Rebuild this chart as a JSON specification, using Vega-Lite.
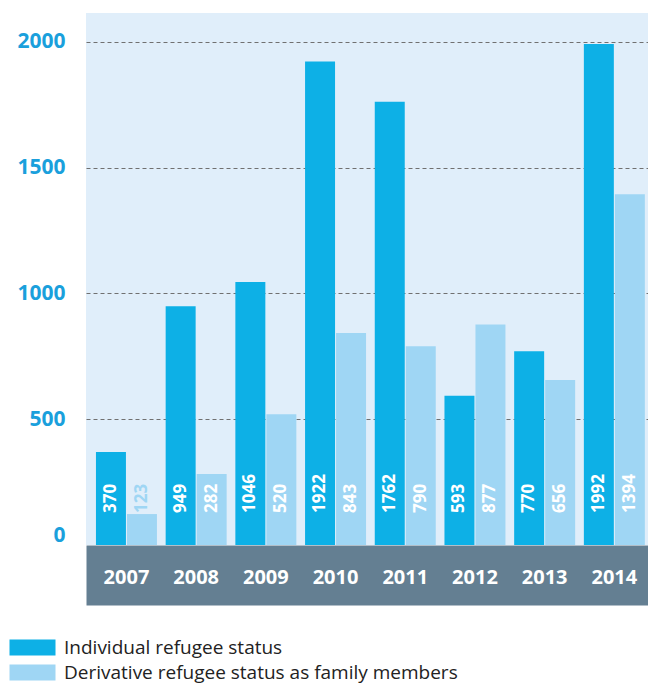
{
  "$schema": "https://vega.github.io/schema/vega-lite/v6.json",
  "width": 562,
  "height": 532,
  "autosize": {"type": "none"},
  "padding": {"left": 86, "top": 13, "right": 0, "bottom": 139},
  "background": "white",
  "config": {"view": {"fill": "#e0eefa", "stroke": null}, "font": "Open Sans"},
  "data": {"values": [
    {"year": "2007", "series": "Individual refugee status", "value": 370},
    {"year": "2007", "series": "Derivative refugee status as family members", "value": 123},
    {"year": "2008", "series": "Individual refugee status", "value": 949},
    {"year": "2008", "series": "Derivative refugee status as family members", "value": 282},
    {"year": "2009", "series": "Individual refugee status", "value": 1046},
    {"year": "2009", "series": "Derivative refugee status as family members", "value": 520},
    {"year": "2010", "series": "Individual refugee status", "value": 1922},
    {"year": "2010", "series": "Derivative refugee status as family members", "value": 843},
    {"year": "2011", "series": "Individual refugee status", "value": 1762},
    {"year": "2011", "series": "Derivative refugee status as family members", "value": 790},
    {"year": "2012", "series": "Individual refugee status", "value": 593},
    {"year": "2012", "series": "Derivative refugee status as family members", "value": 877},
    {"year": "2013", "series": "Individual refugee status", "value": 770},
    {"year": "2013", "series": "Derivative refugee status as family members", "value": 656},
    {"year": "2014", "series": "Individual refugee status", "value": 1992},
    {"year": "2014", "series": "Derivative refugee status as family members", "value": 1394}
  ]},
  "resolve": {"axis": {"x": "independent"}},
  "layer": [
    {
      "mark": {"type": "bar"},
      "encoding": {
        "x": {
          "field": "year", "type": "nominal",
          "scale": {"paddingInner": 0.125, "paddingOuter": 0.094, "align": 0.76},
          "axis": {
            "title": null, "orient": "bottom", "offset": 30, "zindex": 0,
            "domain": true, "domainColor": "#647f92", "domainWidth": 60,
            "ticks": false, "labels": false, "grid": false
          }
        },
        "xOffset": {
          "field": "series", "type": "nominal",
          "sort": ["Individual refugee status", "Derivative refugee status as family members"],
          "scale": {"paddingInner": 0.033, "paddingOuter": 0}
        },
        "y": {
          "field": "value", "type": "quantitative",
          "scale": {"domain": [0, 2115], "nice": false},
          "axis": {
            "title": null, "domain": false, "ticks": false, "format": "d",
            "values": [0, 500, 1000, 1500, 2000],
            "labelPadding": 21, "labelColor": "#1aa0dc",
            "labelFontSize": 21, "labelFontWeight": "bold", "labelFlush": true,
            "grid": true, "gridDash": [4, 3], "gridColor": "#707070", "gridWidth": 1,
            "gridOpacity": {"condition": {"test": "datum.value === 0", "value": 0}, "value": 1}
          }
        },
        "color": {
          "field": "series", "type": "nominal",
          "scale": {
            "domain": ["Individual refugee status", "Derivative refugee status as family members"],
            "range": ["#0db0e6", "#9fd6f4"]
          },
          "legend": {
            "title": null, "orient": "none", "legendX": -63, "legendY": 625,
            "direction": "vertical",
            "symbolType": "M-2.875,-1H2.875V1H-2.875Z", "symbolSize": 256,
            "symbolStrokeWidth": 0, "symbolOpacity": 1,
            "labelFontSize": 19, "labelColor": "#222222", "labelOffset": 22,
            "labelLimit": 600, "rowPadding": 5
          }
        }
      }
    },
    {
      "mark": {"type": "text", "angle": 270, "align": "left", "baseline": "middle", "dx": 32, "fontWeight": "bold", "fontSize": 17},
      "encoding": {
        "x": {
          "field": "year", "type": "nominal",
          "axis": {
            "title": null, "orient": "bottom", "offset": 30, "zindex": 1,
            "domain": false, "ticks": false, "labelAngle": 0, "labelColor": "white",
            "labelFontSize": 20, "labelFontWeight": "bold",
            "labelBaseline": "middle", "labelPadding": 2, "grid": false
          }
        },
        "xOffset": {
          "field": "series", "type": "nominal",
          "sort": ["Individual refugee status", "Derivative refugee status as family members"]
        },
        "y": {"datum": 0, "type": "quantitative"},
        "text": {"field": "value", "type": "quantitative"},
        "color": {"condition": {"test": "datum.value < 200", "value": "#9fd6f4"}, "value": "white"}
      }
    }
  ]
}
